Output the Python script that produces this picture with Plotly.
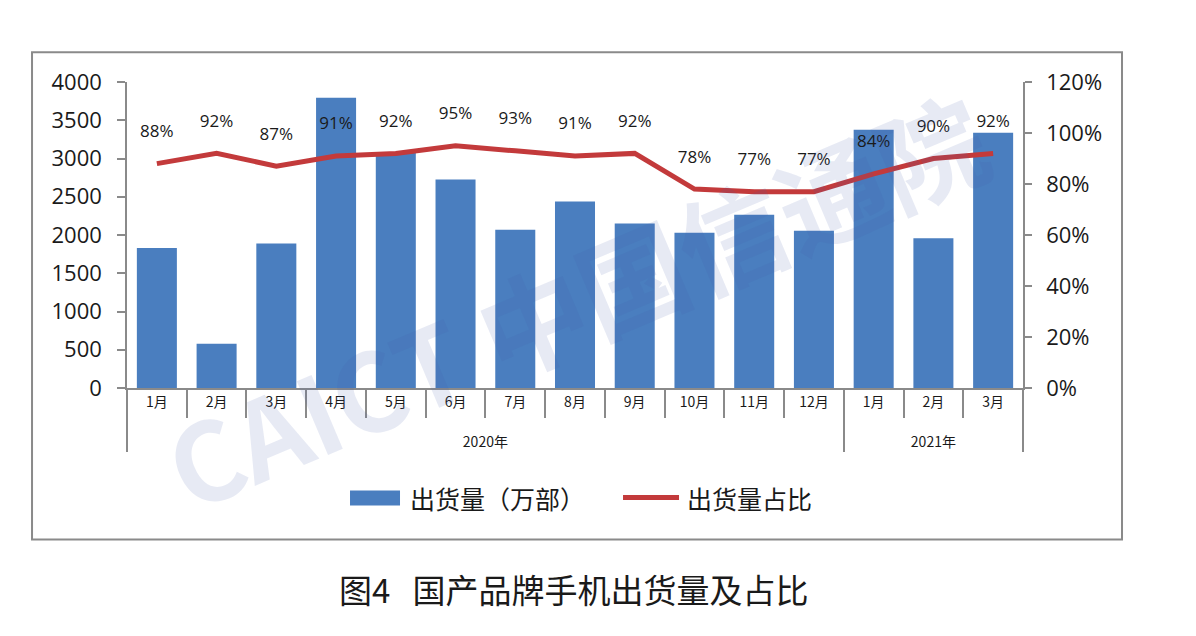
import plotly.graph_objects as go

# ── data ─────────────────────────────────────────────────────────────────────
years = ["2020年"] * 12 + ["2021年"] * 3
months = ["1月", "2月", "3月", "4月", "5月", "6月", "7月", "8月", "9月",
          "10月", "11月", "12月", "1月", "2月", "3月"]
shipments = [1830, 578, 1889, 3795, 3085, 2725, 2070, 2438, 2150,
             2030, 2265, 2055, 3375, 1958, 3338]          # 万部
share_pct = [88, 92, 87, 91, 92, 95, 93, 91, 92, 78, 77, 77, 84, 90, 92]
share_labels = [f"{v}%" for v in share_pct]

BAR = "#4a7ebf"
LINE = "#c33a3b"
AXIS = "#8a8a8a"
TXT = "#1a1a1a"
NUM_FONT = "Open Sans, sans-serif"
CJK_FONT = "Noto Sans CJK SC, sans-serif"

# the page body has an 8px margin, so the figure is drawn 8px smaller
W, H = 1188, 628

# "<br>" pushes the year row further below the month row
year_row = ["<br>" + y for y in years]

fig = go.Figure()

fig.add_trace(go.Bar(
    x=[year_row, months], y=shipments, name="出货量（万部）",
    marker=dict(color=BAR, line_width=0),
))

# invisible big markers push the text labels up above the line
fig.add_trace(go.Scatter(
    x=[year_row, months], y=share_pct, name="出货量占比", yaxis="y2",
    mode="lines+markers+text",
    line=dict(color=LINE, width=5),
    marker=dict(size=34, color="rgba(0,0,0,0)"),
    text=share_labels, textposition="top center",
    textfont=dict(family=NUM_FONT, size=17, color=TXT),
))

fig.update_layout(
    width=W, height=H,
    paper_bgcolor="white", plot_bgcolor="white",
    margin=dict(l=119, r=173, t=74, b=248),
    bargap=0.33,
    showlegend=False,
    xaxis=dict(
        type="multicategory", range=[-0.5, 14.5],
        showline=True, linecolor=AXIS, linewidth=1.5,
        ticks="outside", tickson="boundaries", ticklen=28, tickcolor=AXIS, tickwidth=1.5,
        showdividers=True, dividercolor=AXIS, dividerwidth=1.5,
        tickfont=dict(family=CJK_FONT, size=14, color=TXT),
        showgrid=False,
    ),
    yaxis=dict(
        range=[0, 4000], dtick=500,
        showline=True, linecolor=AXIS, linewidth=1.5,
        ticks="outside", ticklen=8, tickcolor=AXIS, tickwidth=1.5,
        ticklabelstandoff=11,
        tickfont=dict(family=NUM_FONT, size=22, color=TXT),
        showgrid=False, zeroline=False,
    ),
    yaxis2=dict(
        overlaying="y", side="right",
        range=[0, 120], dtick=20, ticksuffix="%",
        showline=True, linecolor=AXIS, linewidth=1.5,
        ticks="outside", ticklen=7, tickcolor=AXIS, tickwidth=1.5,
        ticklabelstandoff=10,
        tickfont=dict(family=NUM_FONT, size=22, color=TXT),
        showgrid=False, zeroline=False,
    ),
)

# outer frame around the chart
fig.add_shape(type="rect", xref="paper", yref="paper",
              x0=-0.106, x1=1.1105, y0=-0.495, y1=1.097,
              line=dict(color=AXIS, width=2), fillcolor="rgba(0,0,0,0)", layer="below")

# legend drawn by hand (wide bar swatch like the original)
fig.add_shape(type="rect", xref="paper", yref="paper",
              x0=0.2489, x1=0.3047, y0=-0.384, y1=-0.335,
              line_width=0, fillcolor=BAR)
fig.add_annotation(xref="paper", yref="paper", x=0.3136, y=-0.358,
                   text="出货量（万部）", showarrow=False, xanchor="left", yanchor="middle",
                   font=dict(family=CJK_FONT, size=25, color=TXT))
fig.add_shape(type="line", xref="paper", yref="paper",
              x0=0.5536, x1=0.6161, y0=-0.358, y1=-0.358,
              line=dict(color=LINE, width=5))
fig.add_annotation(xref="paper", yref="paper", x=0.6228, y=-0.358,
                   text="出货量占比", showarrow=False, xanchor="left", yanchor="middle",
                   font=dict(family=CJK_FONT, size=25, color=TXT))

# faint watermark
fig.add_annotation(xref="paper", yref="paper", x=0.5, y=0.29,
                   xanchor="center", yanchor="middle",
                   text="<b>CAICT 中国信通院</b>", showarrow=False, textangle=-23,
                   font=dict(family=CJK_FONT, size=108, color="rgba(70,90,170,0.13)"))

# caption below the frame
fig.add_annotation(xref="paper", yref="paper", x=0.499, y=-0.656,
                   text="图4&nbsp;&nbsp;&nbsp;国产品牌手机出货量及占比", showarrow=False,
                   xanchor="center", yanchor="middle",
                   font=dict(family=CJK_FONT, size=33, color=TXT))

fig.write_html("out.html")
